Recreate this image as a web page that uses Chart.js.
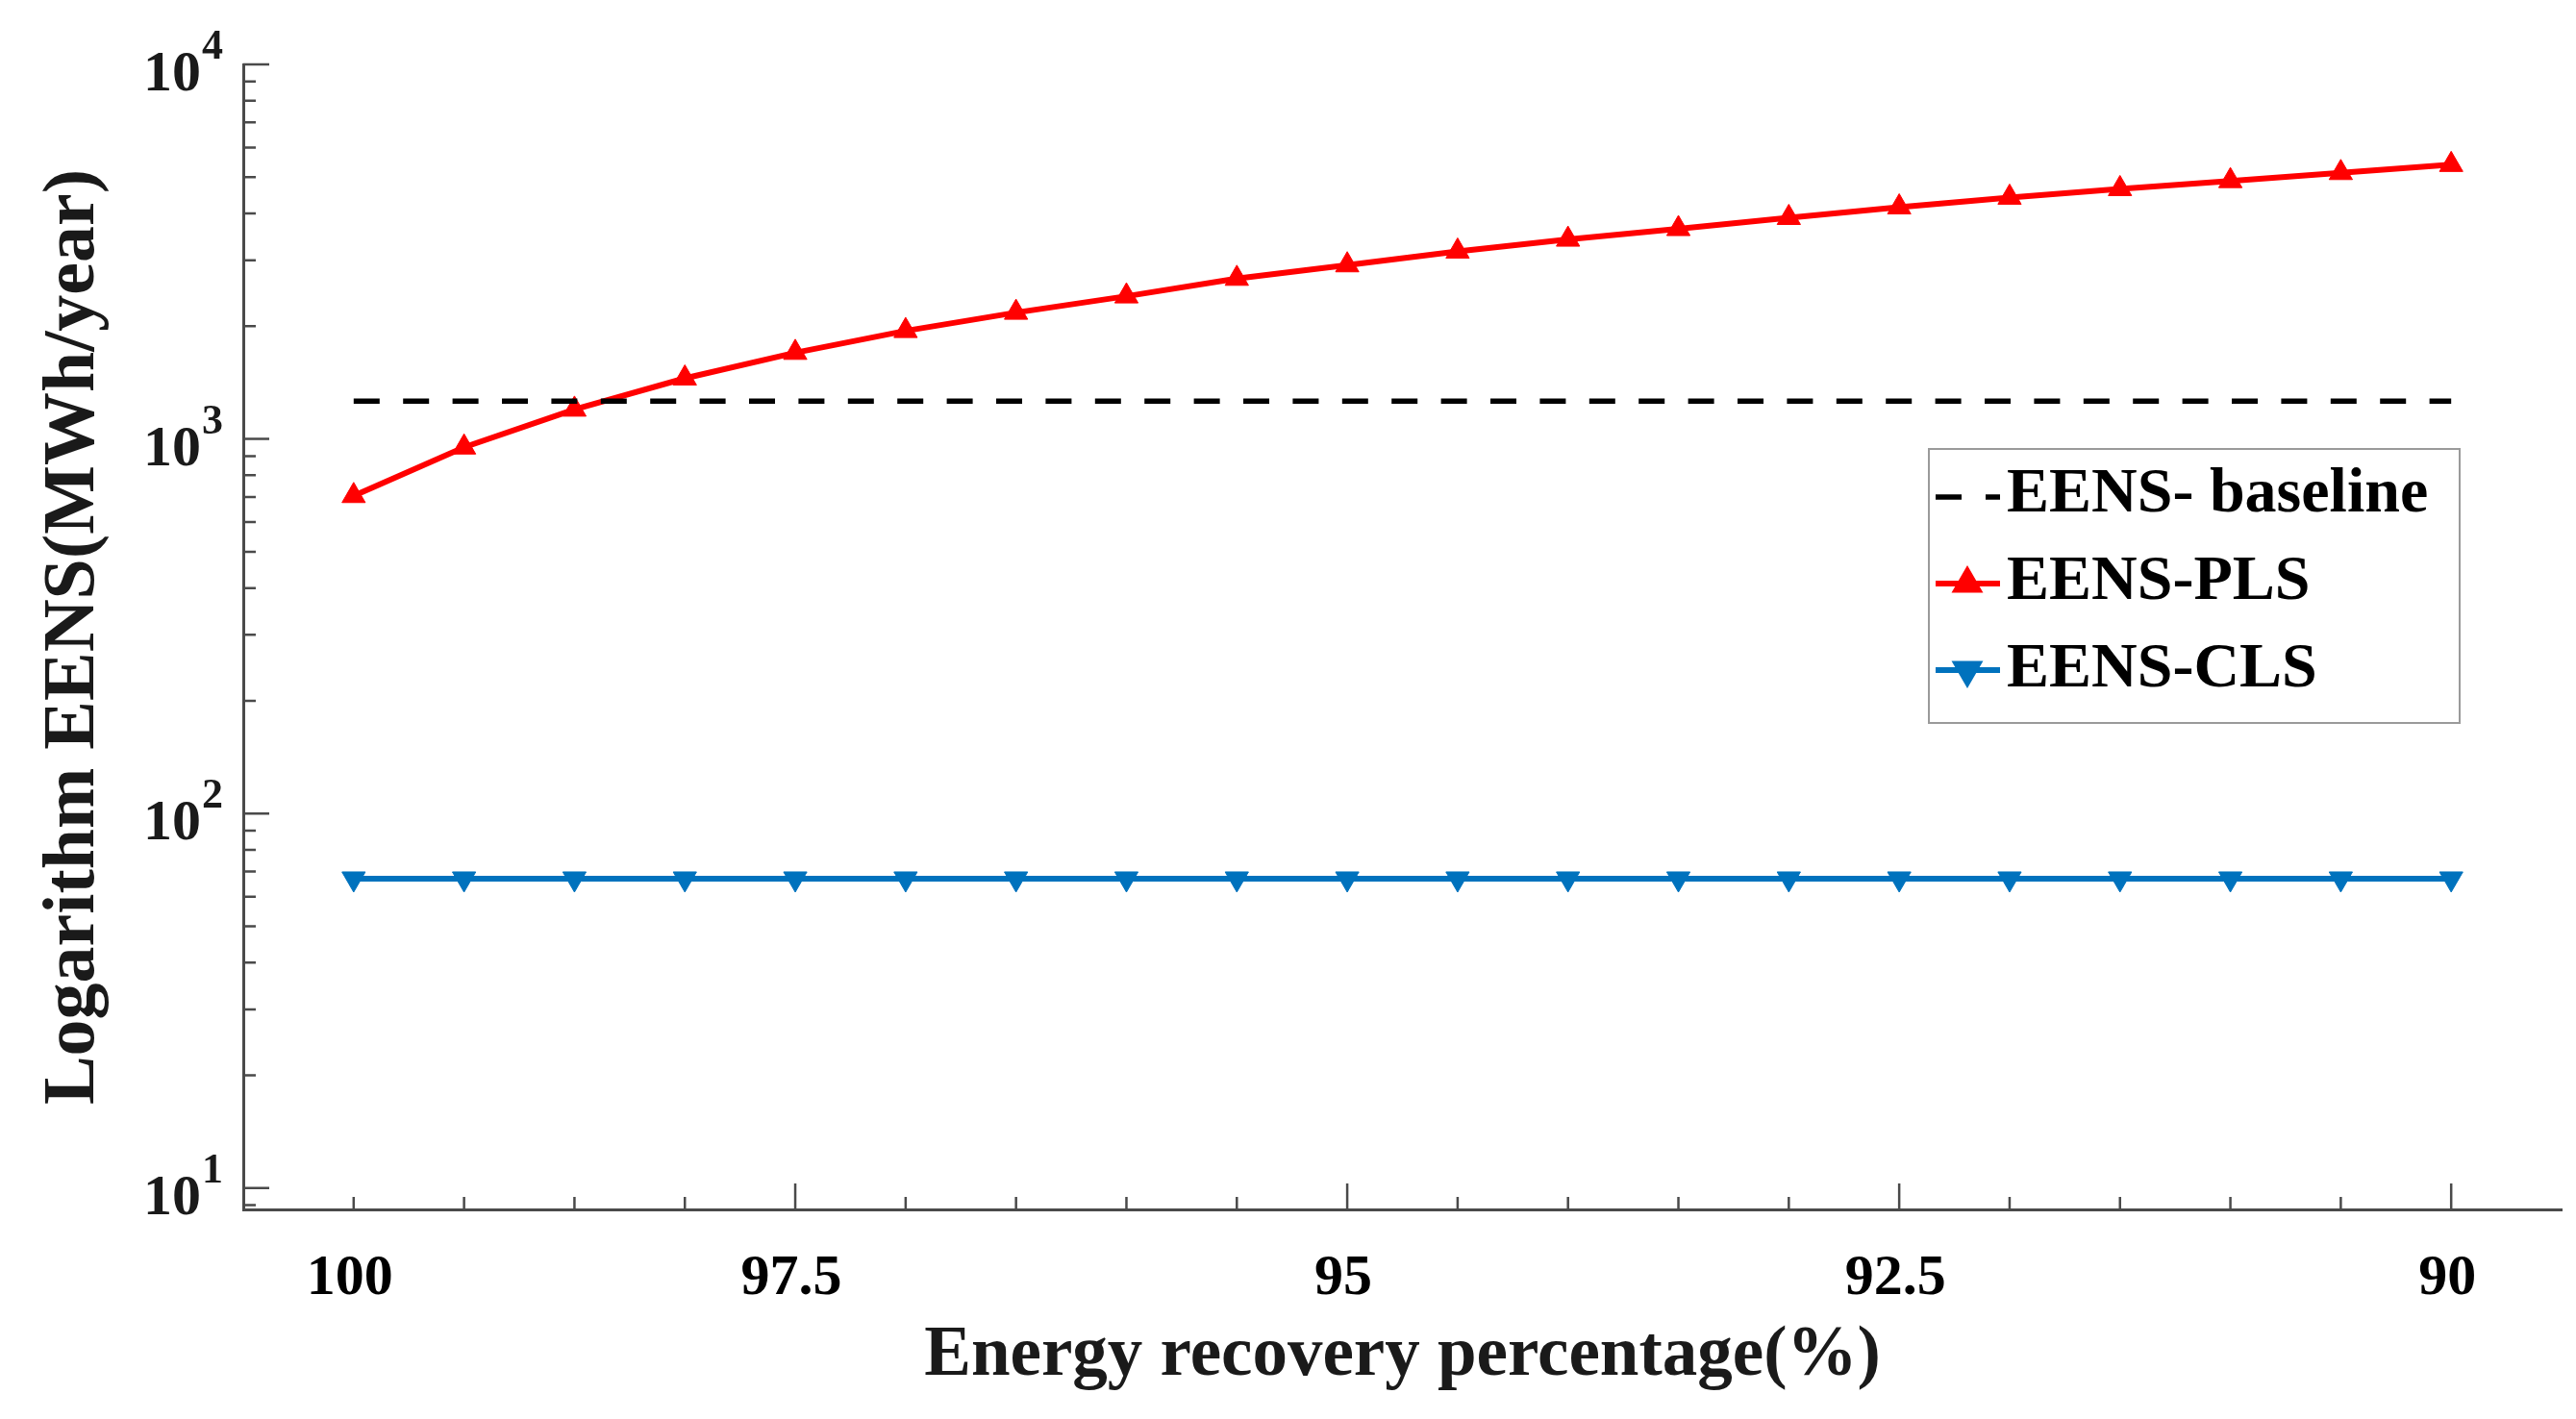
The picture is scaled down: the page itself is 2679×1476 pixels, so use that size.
<!DOCTYPE html>
<html>
<head>
<meta charset="utf-8">
<title>EENS vs energy recovery percentage</title>
<script src="https://cdn.jsdelivr.net/npm/chart.js@4.4.1/dist/chart.umd.min.js"></script>
<style>
  html, body { margin: 0; padding: 0; background: #fff; }
  #wrap { width: 2679px; height: 1476px; }
</style>
</head>
<body>
<div id="wrap"><canvas id="eensChart" width="2679" height="1476"></canvas></div>
<script>
// x positions (one per recovery step) and the labels shown under some of them
const steps = [1, 2, 3, 4, 5, 6, 7, 8, 9, 10, 11, 12, 13, 14, 15, 16, 17, 18, 19, 20];
const stepLabels = ['100', '', '', '', '97.5', '', '', '', '', '95', '', '', '', '', '92.5', '', '', '', '', '90'];

// EENS values in MWh/year
const baselineEENS = [1262, 1262, 1262, 1262, 1262, 1262, 1262, 1262, 1262, 1262,
                      1262, 1262, 1262, 1262, 1262, 1262, 1262, 1262, 1262, 1262];
const plsEENS = [705, 950, 1199, 1452, 1700, 1944, 2175, 2405, 2680, 2912,
                 3169, 3409, 3639, 3896, 4158, 4413, 4653, 4887, 5135, 5397];
const clsEENS = [67, 67, 67, 67, 67, 67, 67, 67, 67, 67,
                 67, 67, 67, 67, 67, 67, 67, 67, 67, 67];

// log axis ticks
const yDecades = [10, 100, 1000, 10000];
const yExponents = ['1', '2', '3', '4'];
const yMinor = [9, 20, 30, 40, 50, 60, 70, 80, 90,
                200, 300, 400, 500, 600, 700, 800, 900,
                2000, 3000, 4000, 5000, 6000, 7000, 8000, 9000];

const SERIF = "'Liberation Serif', 'DejaVu Serif', serif";
const AXIS_COLOR = '#4a4a4a';

const toPoints = vals => steps.map((s, i) => ({ x: s, y: vals[i] }));

// MATLAB-style ticks that point into the plot, plus 10^n labels
const inwardTicks = {
  id: 'inwardTicks',
  afterDraw(chart) {
    const { ctx, chartArea, scales: { x, y } } = chart;
    ctx.save();
    ctx.strokeStyle = AXIS_COLOR;
    ctx.lineWidth = 2.5;
    ctx.beginPath();
    x.ticks.forEach(t => {
      const px = x.getPixelForValue(t.value);
      const len = t.value % 5 === 0 ? 27 : 13;
      ctx.moveTo(px, chartArea.bottom);
      ctx.lineTo(px, chartArea.bottom - len);
    });
    y.ticks.forEach(t => {
      const py = y.getPixelForValue(t.value);
      const len = yDecades.includes(t.value) ? 27 : 13;
      ctx.moveTo(chartArea.left, py);
      ctx.lineTo(chartArea.left + len, py);
    });
    ctx.stroke();

    // decade labels with a raised exponent
    ctx.fillStyle = '#1a1a1a';
    ctx.textAlign = 'right';
    ctx.textBaseline = 'alphabetic';
    yDecades.forEach((v, i) => {
      const py = y.getPixelForValue(v);
      const right = chartArea.left - 21;
      ctx.font = 'bold 44px ' + SERIF;
      const expW = ctx.measureText(yExponents[i]).width;
      ctx.fillText(yExponents[i], right, py - 6);
      ctx.font = 'bold 60px ' + SERIF;
      ctx.fillText('10', right - expW - 1, py + 27);
    });
    ctx.restore();
  }
};

// boxed legend inside the plot, built from the datasets
const boxLegend = {
  id: 'boxLegend',
  afterDraw(chart) {
    const ctx = chart.ctx;
    const box = { left: 2006, top: 467, right: 2558, bottom: 752 };
    ctx.save();
    ctx.fillStyle = '#fff';
    ctx.fillRect(box.left, box.top, box.right - box.left, box.bottom - box.top);
    ctx.strokeStyle = '#9a9a9a';
    ctx.lineWidth = 2;
    ctx.strokeRect(box.left, box.top, box.right - box.left, box.bottom - box.top);

    chart.data.datasets.forEach((ds, i) => {
      const ly = 517 + i * 90;
      ctx.strokeStyle = ds.borderColor;
      ctx.lineWidth = ds.borderWidth;
      ctx.setLineDash(ds.borderDash ? [27, 25] : []);
      ctx.beginPath();
      ctx.moveTo(2013, ly);
      ctx.lineTo(2080, ly);
      ctx.stroke();
      ctx.setLineDash([]);
      if (ds.pointRadius > 0) {
        Chart.helpers.drawPoint(ctx, {
          pointStyle: ds.pointStyle,
          rotation: ds.pointRotation || 0,
          radius: 13,
          borderWidth: 1
        }, 2046, ly);
        ctx.fillStyle = ds.pointBackgroundColor;
        ctx.fill();
      }
      ctx.fillStyle = '#000';
      ctx.font = 'bold 66px ' + SERIF;
      ctx.textAlign = 'left';
      ctx.textBaseline = 'alphabetic';
      ctx.fillText(ds.label, 2087, 532 + i * 91);
    });
    ctx.restore();
  }
};

new Chart(document.getElementById('eensChart'), {
  type: 'line',
  data: {
    datasets: [
      {
        label: 'EENS- baseline',
        data: toPoints(baselineEENS),
        borderColor: '#000000',
        borderWidth: 5.5,
        borderDash: [27, 24.4],
        pointRadius: 0,
        fill: false
      },
      {
        label: 'EENS-PLS',
        data: toPoints(plsEENS),
        borderColor: '#ff0000',
        borderWidth: 6,
        pointStyle: 'triangle',
        pointRadius: 14,
        pointBorderWidth: 1,
        pointBackgroundColor: '#ff0000',
        pointBorderColor: '#ff0000',
        fill: false
      },
      {
        label: 'EENS-CLS',
        data: toPoints(clsEENS),
        borderColor: '#0072bd',
        borderWidth: 6,
        pointStyle: 'triangle',
        pointRotation: 180,
        pointRadius: 14,
        pointBorderWidth: 1,
        pointBackgroundColor: '#0072bd',
        pointBorderColor: '#0072bd',
        fill: false
      }
    ]
  },
  options: {
    responsive: false,
    devicePixelRatio: 1,
    animation: false,
    layout: { padding: { top: 67, right: 12, left: 0, bottom: 0 } },
    elements: { line: { tension: 0 } },
    plugins: {
      legend: { display: false },
      tooltip: { enabled: false }
    },
    scales: {
      x: {
        type: 'linear',
        position: 'bottom',
        min: 0,
        max: 21,
        afterBuildTicks: s => { s.ticks = steps.map(v => ({ value: v })); },
        afterFit: s => { s.height = 218; },
        grid: { display: false, drawTicks: false },
        border: { display: true, color: AXIS_COLOR, width: 3 },
        ticks: {
          autoSkip: false,
          maxRotation: 0,
          padding: 36,
          labelOffset: -4,
          color: '#000',
          font: { family: SERIF, size: 60, weight: 'bold' },
          callback: v => stepLabels[steps.indexOf(v)] || ''
        },
        title: {
          display: true,
          text: 'Energy recovery percentage(%)',
          color: '#1a1a1a',
          font: { family: SERIF, size: 73, weight: 'bold' },
          padding: { top: 0, bottom: 21 }
        }
      },
      y: {
        type: 'logarithmic',
        position: 'left',
        min: 8.77,
        max: 10000,
        afterBuildTicks: s => {
          s.ticks = yDecades.concat(yMinor).sort((a, b) => a - b).map(v => ({ value: v }));
        },
        afterFit: s => { s.width = 253; },
        grid: { display: false, drawTicks: false },
        border: { display: true, color: AXIS_COLOR, width: 3 },
        ticks: { display: false },
        title: {
          display: true,
          text: 'Logarithm EENS(MWh/year)',
          color: '#1a1a1a',
          font: { family: SERIF, size: 76, weight: 'bold' },
          padding: { top: 32, bottom: 0 }
        }
      }
    }
  },
  plugins: [inwardTicks, boxLegend]
});
</script>
</body>
</html>
